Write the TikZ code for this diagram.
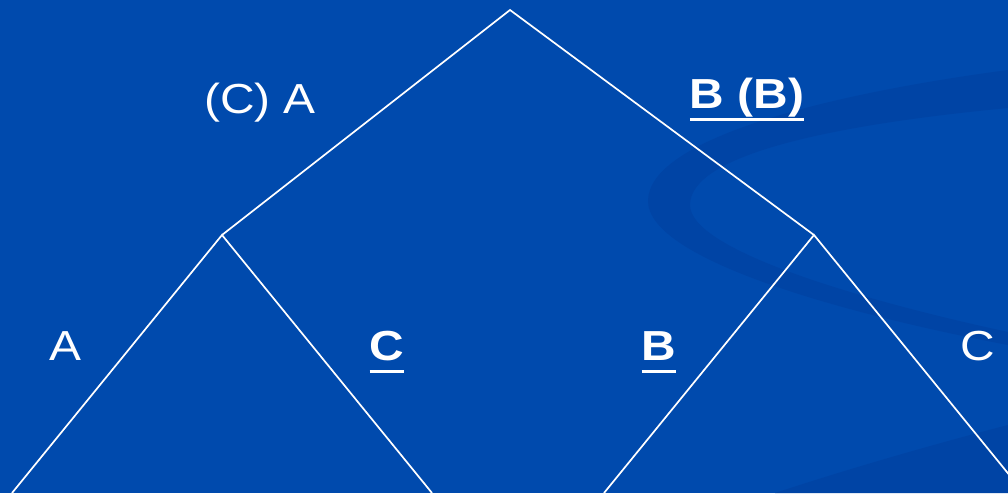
\documentclass[tikz,border=0pt]{standalone}
\usepackage{fontspec}
\setmainfont{Liberation Sans}
\usepackage{tikz}
\usetikzlibrary{positioning}
\definecolor{slideblue}{HTML}{004AAD}
\definecolor{swooshblue}{HTML}{0044A5}
\newcommand{\ulbf}[1]{\setbox0\hbox{\bfseries #1}\rlap{\rule[-0.3em]{\wd0}{0.06em}}\box0}
\tikzstyle{branch} = [draw=white, line width=1.7pt]
\tikzstyle{lbl} = [text=white, font=\fontsize{42}{50}\selectfont, xscale=1.14, inner sep=0pt, anchor=base]

\begin{document}
\begin{tikzpicture}[x=1pt, y=-1pt]
    \fill[slideblue] (0,0) rectangle (1008,493);
    \useasboundingbox (0,0) rectangle (1008,493);
    % swoosh of the slide template
    \fill[swooshblue] (1008,70) .. controls (820,95) and (650,140) .. (648,200)
        .. controls (646,260) and (850,315) .. (1008,345) -- (1008,332)
        .. controls (860,300) and (690,250) .. (690,205)
        .. controls (690,155) and (830,125) .. (1008,108) -- cycle;
    \fill[swooshblue] (775,493) .. controls (860,465) and (950,440) .. (1008,425) -- (1008,493) -- cycle;

    \coordinate (root) at (510,10);
    \coordinate (lmid) at (222,235);
    \coordinate (rmid) at (814,235);
    \coordinate (ll) at (12,493);
    \coordinate (lr) at (432,493);
    \coordinate (rl) at (604,493);
    \coordinate (rr) at (1024,493);

    \draw[branch] (lmid) -- (root) -- (rmid);
    \draw[branch] (ll) -- (lmid) -- (lr);
    \draw[branch] (rl) -- (rmid) -- (rr);

    \node[lbl] (topleft) at (260,113) {(C) A};
    \node[lbl] (topright) at (747,108) {\ulbf{B (B)}};
    \node[lbl] (leafA) at (65,360) {A};
    \node[lbl] (leafC) at (387,360) {\ulbf{C}};
    \node[lbl] (leafB) at (659,360) {\ulbf{B}};
    \node[lbl] (leafC2) at (978,360) {C};
\end{tikzpicture}
\end{document}
